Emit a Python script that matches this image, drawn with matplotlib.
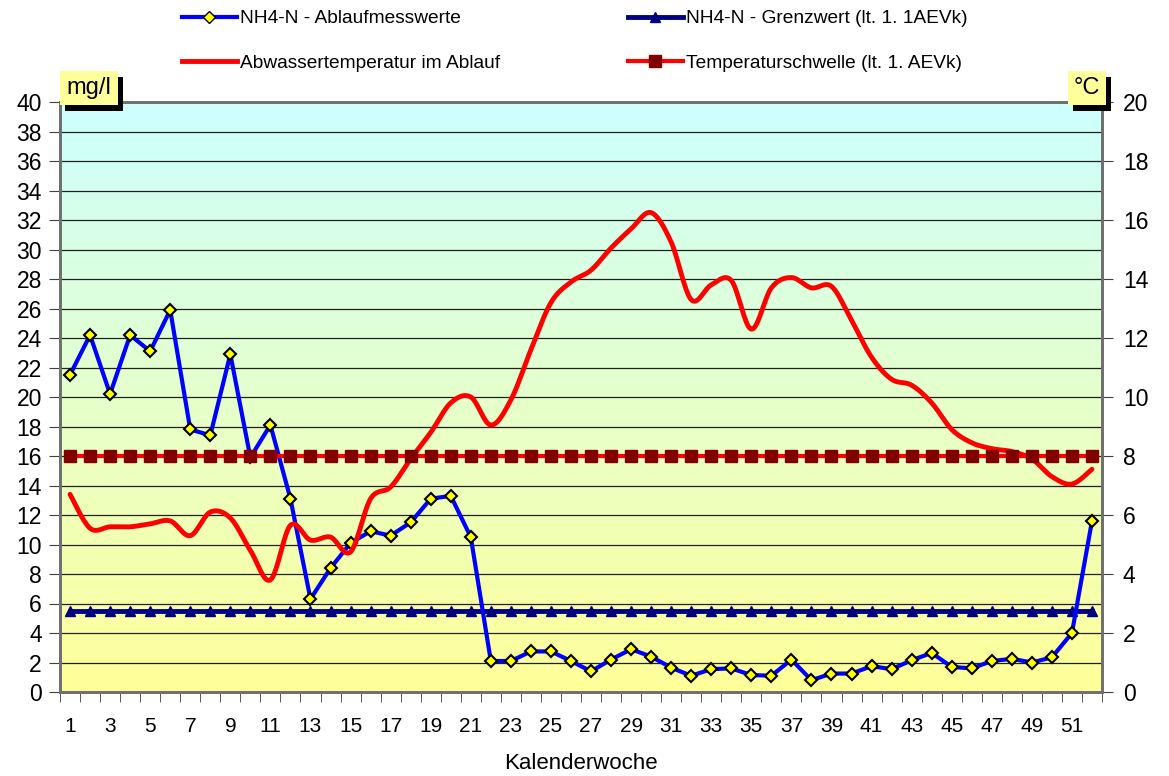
import numpy as np
import matplotlib
matplotlib.use("Agg")
import matplotlib.pyplot as plt
from matplotlib.colors import LinearSegmentedColormap
from matplotlib.lines import Line2D
import matplotlib.patches as mpatches

plt.rcParams['font.family'] = ['Liberation Sans', 'DejaVu Sans']

weeks = np.arange(1, 53)

# NH4-N Ablaufmesswerte [mg/l]
nh4 = [21.5, 24.2, 20.2, 24.2, 23.1, 25.9, 17.8, 17.4, 22.9, 15.9,
       18.1, 13.1, 6.3, 8.4, 10.1, 10.9, 10.6, 11.5, 13.1, 13.3,
       10.5, 2.1, 2.1, 2.75, 2.75, 2.1, 1.4, 2.2, 2.9, 2.4,
       1.65, 1.1, 1.55, 1.6, 1.15, 1.1, 2.2, 0.8, 1.25, 1.25,
       1.75, 1.55, 2.15, 2.65, 1.7, 1.6, 2.1, 2.25, 2.0, 2.35,
       4.0, 11.6]

# Abwassertemperatur im Ablauf [°C]
temp = [6.7, 5.55, 5.6, 5.6, 5.7, 5.8, 5.3, 6.1, 5.9, 4.8,
        3.8, 5.65, 5.15, 5.25, 4.75, 6.55, 6.95, 7.9, 8.8, 9.8,
        10.0, 9.05, 9.9, 11.6, 13.2, 13.9, 14.3, 15.05, 15.7, 16.25,
        15.25, 13.3, 13.8, 13.95, 12.3, 13.7, 14.05, 13.7, 13.75, 12.6,
        11.35, 10.6, 10.4, 9.8, 8.9, 8.45, 8.25, 8.15, 7.9, 7.3,
        7.05, 7.55]

grenzwert = [5.5] * 52          # mg/l
temp_schwelle = [8.0] * 52      # °C

x_labels = [str(w) for w in range(1, 53, 2)]


def smooth(x, y, n=20):
    """Excel-like smoothed line (Catmull-Rom Bezier) through the points."""
    x = np.asarray(x, float)
    y = np.asarray(y, float)
    px = np.concatenate([[x[0]], x, [x[-1]]])
    py = np.concatenate([[y[0]], y, [y[-1]]])
    xs, ys = [], []
    t = np.linspace(0, 1, n)
    for i in range(1, len(px) - 2):
        p0 = np.array([px[i], py[i]])
        p3 = np.array([px[i + 1], py[i + 1]])
        b1 = p0 + (p3 - np.array([px[i - 1], py[i - 1]])) / 6
        b2 = p3 - (np.array([px[i + 2], py[i + 2]]) - p0) / 6
        pts = ((1 - t) ** 3)[:, None] * p0 + (3 * (1 - t) ** 2 * t)[:, None] * b1 \
            + (3 * (1 - t) * t ** 2)[:, None] * b2 + (t ** 3)[:, None] * p3
        xs.extend(pts[:, 0])
        ys.extend(pts[:, 1])
    return np.array(xs), np.array(ys)


W, H = 1169, 776
fig = plt.figure(figsize=(W / 100, H / 100), dpi=100)
ax = fig.add_axes([60 / W, 1 - 692 / H, (1102 - 60) / W, (692 - 102) / H])
ax2 = ax.twinx()

# gradient background
cmap = LinearSegmentedColormap.from_list('bg', ['#FFFF99', '#CCFFFF'])
grad = np.linspace(0, 1, 256).reshape(-1, 1)
ax.imshow(grad, extent=[0.5, 52.5, 0, 40], origin='lower', aspect='auto',
          cmap=cmap, zorder=0)

ax.set_xlim(0.5, 52.5)
ax.set_ylim(0, 40)
ax2.set_ylim(0, 20)

ax.set_yticks(np.arange(0, 41, 2))
ax2.set_yticks(np.arange(0, 21, 2))
ax.yaxis.grid(True, color='#202020', linewidth=0.9, zorder=1)
ax.set_axisbelow(True)

ax.set_xticks(range(1, 53, 2))
ax.set_xticklabels(x_labels)
ax.set_xticks(np.arange(0.5, 53, 1), minor=True)
ax.tick_params(axis='x', which='major', length=0, labelsize=15, pad=18)
ax.tick_params(axis='x', which='minor', length=7, color='#404040')
ax.tick_params(axis='y', labelsize=16.5, length=8, color='#404040', pad=5)
ax2.tick_params(axis='y', labelsize=16.5, length=8, color='#404040', pad=7)
ax.set_xlabel('Kalenderwoche', fontsize=16, labelpad=12)

for a in (ax, ax2):
    for s in a.spines.values():
        s.set_color('#707070')
        s.set_linewidth(2)

# series
ax.plot(weeks, grenzwert, color='#000080', linewidth=3.5, marker='^',
        markersize=7, zorder=3)
ax.plot(weeks, nh4, color='#0000FF', linewidth=3, marker='D', markersize=6,
        markerfacecolor='#FFFF00', markeredgecolor='black',
        markeredgewidth=1.5, zorder=4)
tx, ty = smooth(weeks, temp)
ax2.plot(tx, ty, color='#FF0000', linewidth=3.5, solid_capstyle='round', zorder=3)
ax2.plot(weeks, temp_schwelle, color='#FF0000', linewidth=3, marker='s',
         markersize=8, markerfacecolor='#800000', markeredgecolor='#800000',
         zorder=3)

# legend (two columns placed separately)
h_nh4 = Line2D([], [], color='#0000FF', linewidth=3, marker='D', markersize=6,
               markerfacecolor='#FFFF00', markeredgecolor='black')
h_temp = Line2D([], [], color='#FF0000', linewidth=3.5)
h_grenz = Line2D([], [], color='#000080', linewidth=3.5, marker='^', markersize=7)
h_schw = Line2D([], [], color='#FF0000', linewidth=3, marker='s', markersize=8,
                markerfacecolor='#800000', markeredgecolor='#800000')

leg_kw = dict(loc='upper left', frameon=False, fontsize=13.8, handlelength=2.85,
              handletextpad=0.15, labelspacing=1.4, borderpad=0,
              borderaxespad=0)
fig.legend([h_nh4, h_temp], ['NH4-N - Ablaufmesswerte', 'Abwassertemperatur im Ablauf'],
           bbox_to_anchor=(182 / W, 1 - 10 / H), **leg_kw)
fig.legend([h_grenz, h_schw], ['NH4-N - Grenzwert (lt. 1. 1AEVk)',
                               'Temperaturschwelle (lt. 1. AEVk)'],
           bbox_to_anchor=(628 / W, 1 - 10 / H), **leg_kw)


# unit boxes with shadow
def unit_box(x0, y0, w, h, text):
    sh = mpatches.Rectangle(((x0 + 5) / W, 1 - (y0 + h + 6) / H), w / W, h / H,
                            transform=fig.transFigure, facecolor='black',
                            edgecolor='none', zorder=5)
    bx = mpatches.Rectangle((x0 / W, 1 - (y0 + h) / H), w / W, h / H,
                            transform=fig.transFigure, facecolor='#FFFF99',
                            edgecolor='none', zorder=6)
    fig.patches.extend([sh, bx])
    fig.text((x0 + w / 2) / W, 1 - (y0 + h / 2) / H, text, ha='center',
             va='center', fontsize=17, zorder=7)


unit_box(60, 71, 58, 34, 'mg/l')
unit_box(1068, 71, 38, 34, '°C')

fig.savefig('out.png', dpi=100)
